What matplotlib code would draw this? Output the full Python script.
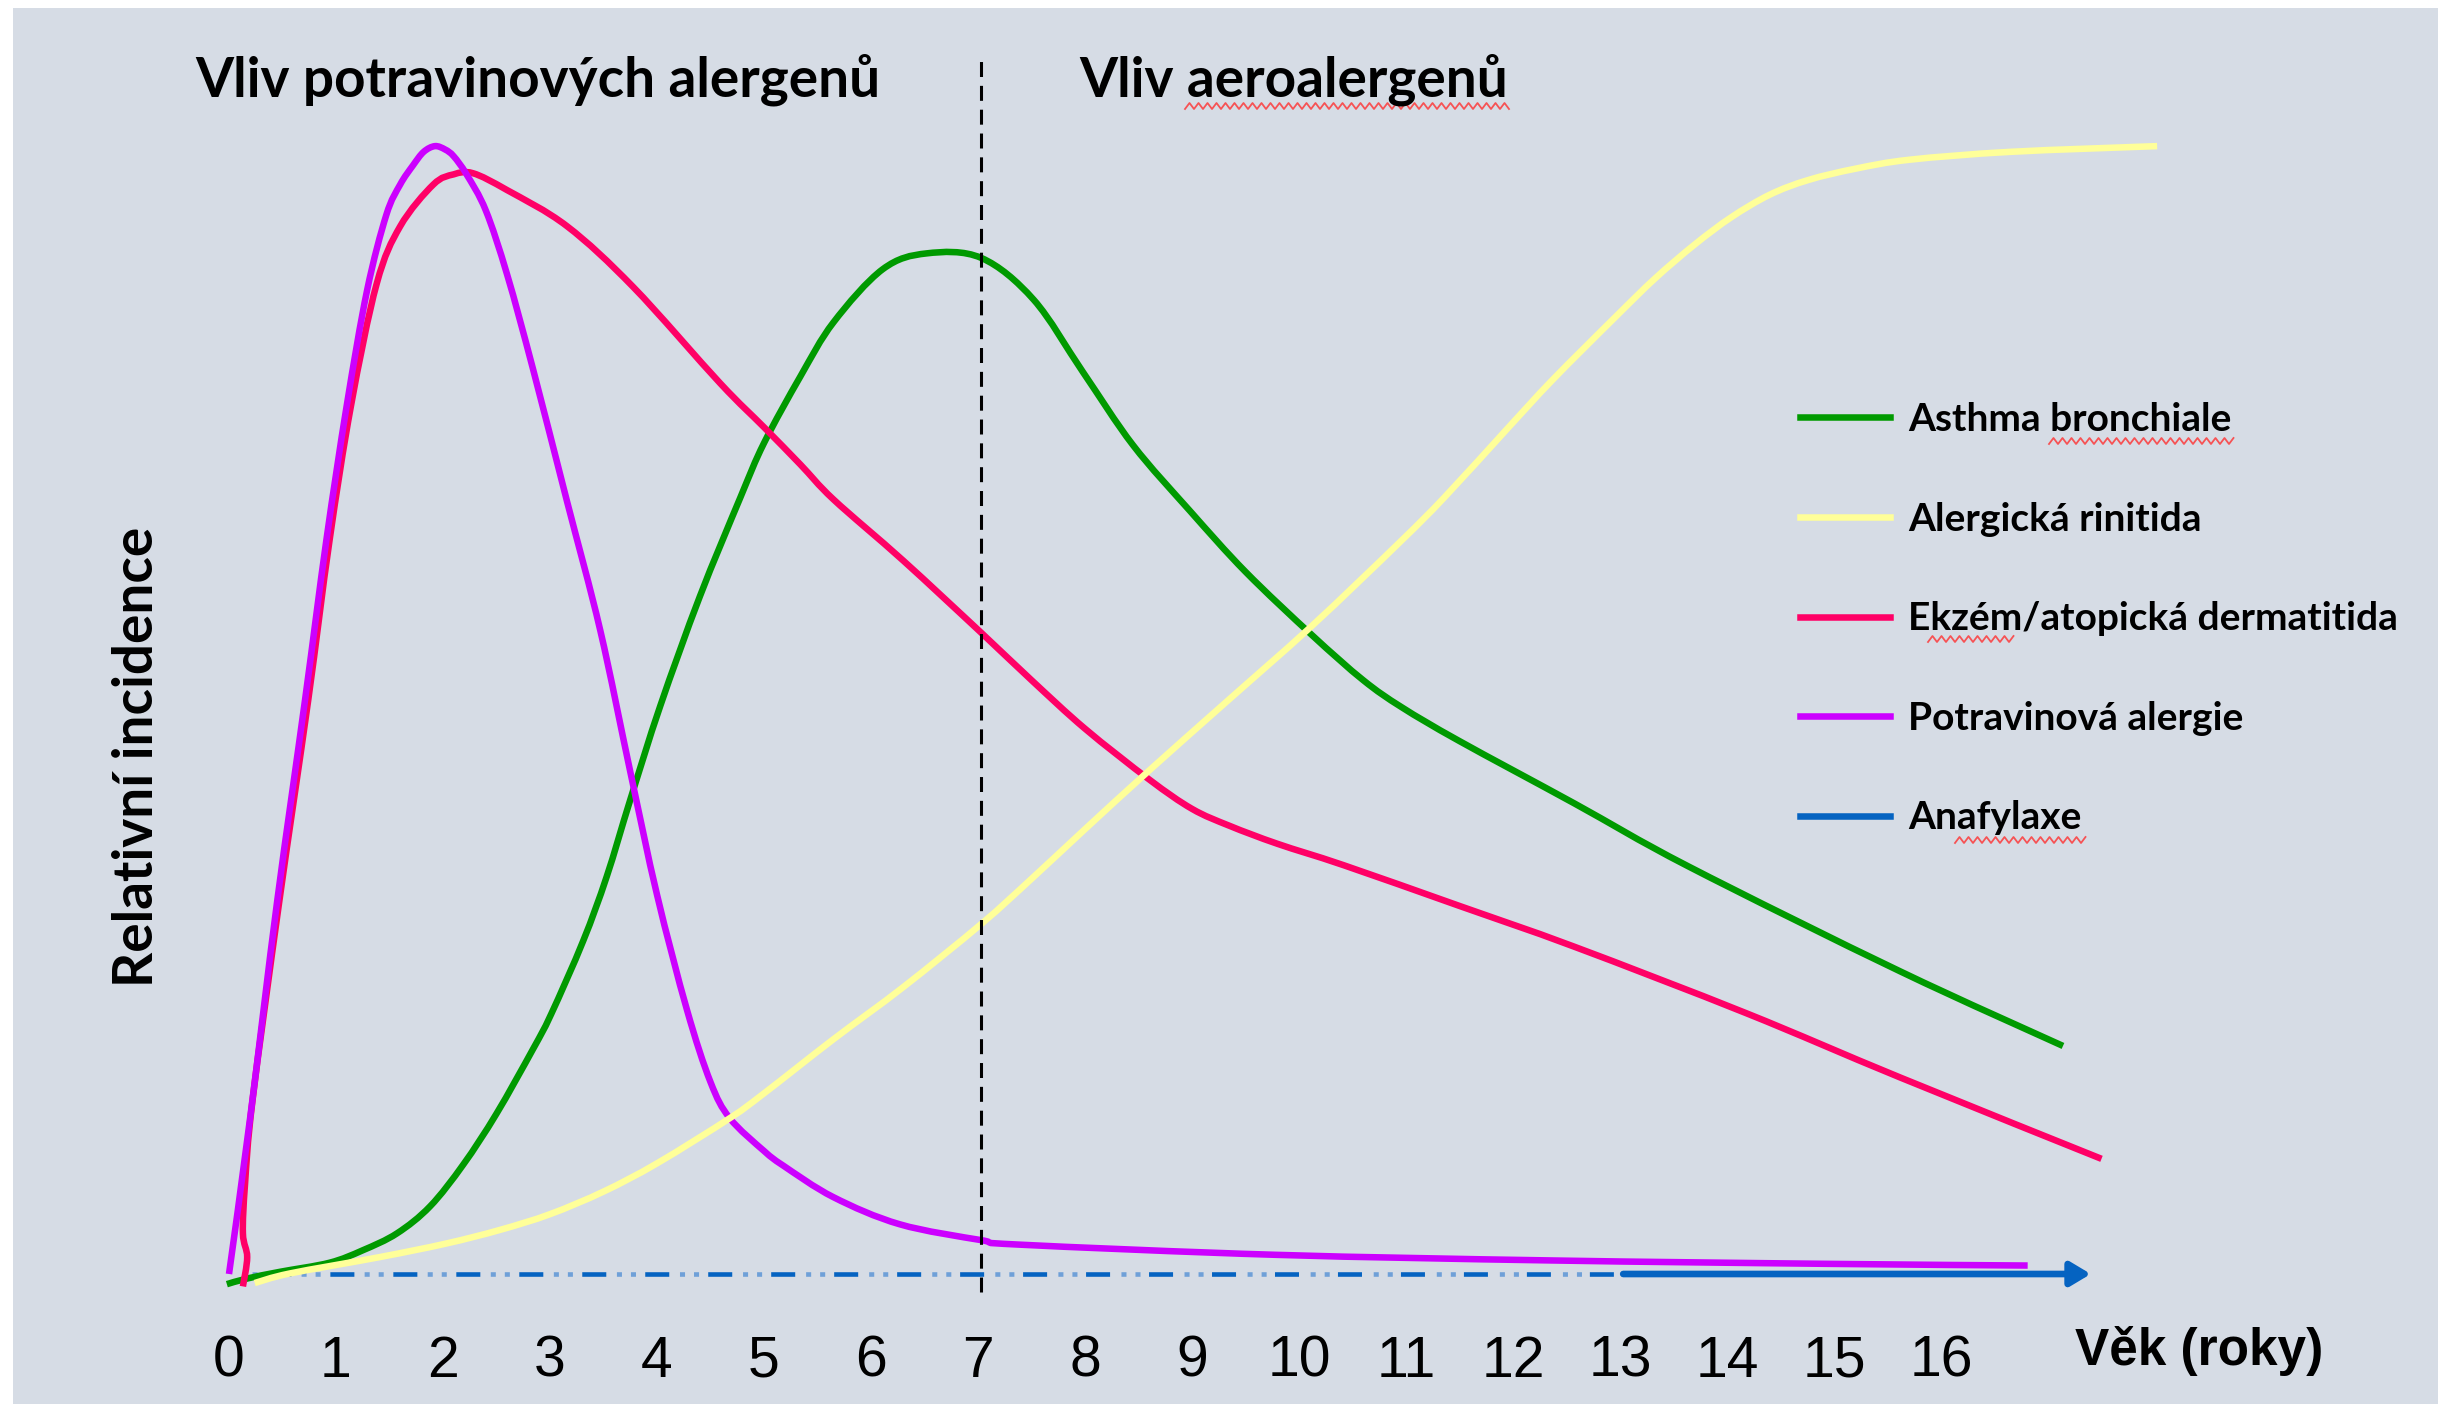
import numpy as np
import matplotlib
matplotlib.use("Agg")
import matplotlib.pyplot as plt
from matplotlib.lines import Line2D
from matplotlib.patches import Rectangle, PathPatch
from matplotlib.path import Path

# věk (roky) a relativní incidence jednotlivých onemocnění
ages_asthma = [-0.02, 0.17, 0.48, 0.94, 1.25, 1.57, 1.88, 2.19, 2.50, 2.84, 3.01, 3.31,
               3.53, 3.75, 4.03, 4.40, 4.78, 5.0, 5.34, 5.65, 6.11, 6.52, 7.03, 7.52,
               7.98, 8.45, 8.98, 9.5, 10.12, 10.6, 10.96, 11.50, 12.57, 13.64, 15.62, 17.14]
inc_asthma = [-0.9, -0.4, 0.2, 1.0, 2.1, 3.6, 6.0, 9.7, 14.2, 19.9, 23.0, 29.5,
              35.2, 42.0, 50.3, 60.0, 68.8, 73.6, 79.5, 84.3, 89.0, 90.4, 90.0, 86.3,
              79.9, 73.4, 67.6, 62.2, 56.6, 52.6, 50.2, 47.2, 41.7, 36.1, 26.8, 20.2]

ages_rhinitis = [0.24, 0.57, 1.41, 2.03, 2.53, 3.0, 3.5, 4.0, 4.68, 5.0, 5.65, 6.3,
                 7.03, 7.5, 8.0, 8.6, 9.3, 10.12, 10.94, 11.36, 11.94, 12.37, 12.95,
                 13.33, 13.7, 14.04, 14.4, 14.76, 15.2, 15.71, 16.66, 18.02]
inc_rhinitis = [-0.8, 0.05, 1.5, 2.7, 3.9, 5.3, 7.3, 9.8, 13.8, 16.0, 20.8, 25.4,
                31.0, 35.0, 39.4, 44.6, 50.5, 57.4, 64.8, 68.8, 74.8, 79.2, 84.7,
                88.2, 91.2, 93.6, 95.6, 96.9, 97.9, 98.7, 99.4, 99.9]

ages_eczema = [0.13, 0.17, 0.13, 0.15, 0.22, 0.47, 0.74, 0.94, 1.14, 1.38, 1.60, 1.91,
               2.1, 2.28, 2.6, 3.16, 3.78, 4.59, 5.0, 5.34, 5.65, 6.3, 7.03, 7.5,
               8.0, 8.6, 9.0, 9.35, 9.8, 10.42, 11.5, 12.57, 14.18, 15.62, 17.5]
inc_eczema = [-1.1, 1.5, 3.6, 8.0, 15.4, 33.0, 50.8, 65.0, 76.9, 87.7, 92.8, 96.5,
              97.4, 97.5, 96.0, 92.8, 87.4, 78.9, 75.0, 71.7, 68.6, 63.2, 56.8, 52.6,
              48.3, 43.8, 41.2, 39.7, 38.1, 36.2, 32.6, 29.0, 23.1, 17.4, 10.2]

ages_food = [0.0, 0.2, 0.45, 0.71, 0.91, 1.10, 1.29, 1.47, 1.6, 1.72, 1.82, 1.925,
             2.02, 2.1, 2.22, 2.4, 2.6, 2.84, 3.16, 3.47, 3.75, 4.0, 4.28, 4.5, 4.68,
             5.0, 5.18, 5.65, 6.27, 7.03, 7.39, 9.78, 12.36, 14.94, 16.81]
inc_food = [0.0, 14.0, 33.0, 50.8, 65.0, 76.9, 87.1, 93.8, 96.5, 98.2, 99.4, 99.9,
            99.6, 99.0, 97.4, 94.2, 88.5, 80.2, 68.4, 57.0, 44.5, 33.6, 23.4, 17.0, 13.8,
            10.9, 9.6, 6.8, 4.4, 3.0, 2.6, 1.7, 1.2, 0.9, 0.75]

# anafylaxe: čárkovaně, pak plná čára se šipkou
anaf_x = [0.17, 13.03, 17.4]
anaf_y = [0, 0, 0]

divider_age = 7.03
xtick_ages = list(range(17))

series_labels = ["Asthma bronchiale", "Alergická rinitida", "Ekzém/atopická dermatitida",
                 "Potravinová alergie", "Anafylaxe"]
c_asthma, c_rhin, c_ecz, c_food, c_anaf = "#009A00", "#FFFF99", "#FF0066", "#CC00FF", "#0563C1"

W, H, DPI = 2441, 1404, 100


def px(x, y):
    # pixel (zleva, shora) -> souřadnice obrázku
    return x / W, 1 - y / H


def smooth_path(xs, ys):
    # vyhlazená křivka (Catmull-Rom jako kubické Bézierovy úseky) přes zadané body
    p = np.column_stack([xs, ys]).astype(float)
    p = np.vstack([p[0], p, p[-1]])
    verts, codes = [p[1]], [Path.MOVETO]
    for i in range(1, len(p) - 2):
        c1 = p[i] + (p[i + 1] - p[i - 1]) / 6
        c2 = p[i + 1] - (p[i + 2] - p[i]) / 6
        verts += [c1, c2, p[i + 1]]
        codes += [Path.CURVE4] * 3
    return Path(verts, codes)


fig = plt.figure(figsize=(W / DPI, H / DPI), dpi=DPI, facecolor="white")
fig.add_artist(Rectangle(px(13, H), (2438 - 13) / W, (H - 8) / H, transform=fig.transFigure,
                         facecolor="#D6DCE5", edgecolor="none", zorder=-10))

ax = fig.add_axes([0, (H - 1300) / H, 1, 1300 / H])
ax.set_facecolor("none")
ax.set_xlim(-229 / 107, (W - 229) / 107)
ax.set_ylim((1274 - 1300) / 11.29, 1274 / 11.29)
for s in ax.spines.values():
    s.set_visible(False)
ax.set_yticks([])
ax.set_xticks(xtick_ages)
ax.set_xticklabels([str(a) for a in xtick_ages], family="Liberation Sans", fontsize=41)
ax.tick_params(axis="x", length=0, pad=25)

lw = 4.7
for xs, ys, c, z in [(ages_asthma, inc_asthma, c_asthma, 3),
                     (ages_eczema, inc_eczema, c_ecz, 3),
                     (ages_food, inc_food, c_food, 4),
                     (ages_rhinitis, inc_rhinitis, c_rhin, 4)]:
    ax.add_patch(PathPatch(smooth_path(xs, ys), fill=False, edgecolor=c, lw=lw,
                           capstyle="butt", joinstyle="round", zorder=z))

ax.plot(anaf_x[:2], anaf_y[:2], color=c_anaf, lw=3.3, zorder=2,
        linestyle=(9.4, (5.24, 8.5)), dash_capstyle="butt")
ax.plot(anaf_x[:2], anaf_y[:2], color="#6FA0D8", lw=3.3, zorder=2,
        linestyle=(1.96, (1.1, 1.96, 1.1, 9.6)), dash_capstyle="butt")
ax.annotate("", xy=(anaf_x[2], anaf_y[2]), xytext=(anaf_x[1], anaf_y[1]), zorder=2,
            arrowprops=dict(arrowstyle="-|>,head_length=0.4,head_width=0.24",
                            mutation_scale=30, lw=4.8, color=c_anaf,
                            shrinkA=0, shrinkB=0))

ax.vlines(divider_age, (1274 - 1292) / 11.29, (1274 - 59) / 11.29, colors="black",
          lw=2.2, linestyles=(0, (4.9, 2.9)), zorder=6)

handles = [Line2D([], [], color=c, lw=lw) for c in (c_asthma, c_rhin, c_ecz, c_food, c_anaf)]
ax.legend(handles, series_labels, loc="upper left", bbox_to_anchor=px(1800, 402),
          bbox_transform=fig.transFigure, frameon=False, borderpad=0, borderaxespad=0,
          handlelength=2.31, handletextpad=0.46, labelspacing=1.66,
          prop=dict(family="Lato", weight="bold", size=28))

fig.text(*px(195, 97), "Vliv potravinových alergenů", family="Lato", weight="bold",
         fontsize=39.5, ha="left", va="baseline")
fig.text(*px(1079, 97), "Vliv aeroalergenů", family="Lato", weight="bold",
         fontsize=39.5, ha="left", va="baseline")
fig.text(*px(137, 757), "Relativní incidence", family="Lato", weight="bold",
         fontsize=39.5, rotation=90, ha="center", va="center")
fig.text(*px(2075, 1365), "Věk (roky)", family="Liberation Sans", weight="bold",
         fontsize=37, ha="left", va="baseline")

# červené vlnovky kontroly pravopisu
for x0, x1, y0 in [(1185, 1513, 106), (2049, 2236, 441), (1928, 2018, 639), (1955, 2087, 840)]:
    xs = np.arange(x0, x1, 4.5)
    ys = y0 + 3 * (-1) ** np.arange(len(xs))
    fx, fy = px(xs, ys)
    fig.add_artist(Line2D(fx, fy, transform=fig.transFigure, color="#FF3030",
                          lw=1.3, alpha=0.8))

fig.savefig("out.png", dpi=DPI, facecolor="white")
